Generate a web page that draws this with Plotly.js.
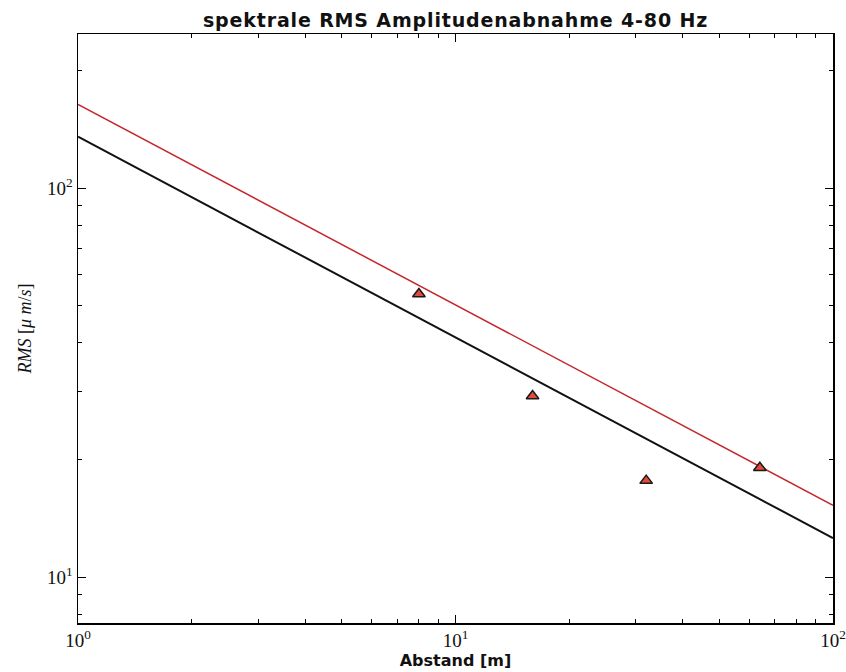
<!DOCTYPE html>
<html>
<head>
<meta charset="utf-8">
<script src="https://cdn.plot.ly/plotly-3.0.1.min.js"></script>
<style>
html,body{margin:0;padding:0;background:#fff;}
#chart{width:846px;height:672px;}
#chart .gtitle{letter-spacing:0.85px;}
</style>
</head>
<body>
<div id="chart"></div>
<script>
// Data
const distance = [8, 16, 32, 64];            // Abstand [m]
const rmsValues = [53.4, 29.2, 17.7, 19.1];    // measured RMS
const fitX = [1, 100];
const redFitY = [164, 15.3];
const blackFitY = [135.5, 12.6];
const xTickVals = [1, 10, 100];
const xTickText = ['10<sup>0</sup>', '10<sup>1</sup>', '10<sup>2</sup>'];
const yTickVals = [10, 100];
const yTickText = ['10<sup>1</sup>', '10<sup>2</sup>'];
const xMinorVals = [2,3,4,5,6,7,8,9,20,30,40,50,60,70,80,90];
const yMinorVals = [8,9,20,30,40,50,60,70,80,90,200];

const traces = [
  {x: fitX, y: blackFitY, mode: 'lines', line: {color: '#111111', width: 2}, hoverinfo: 'skip'},
  {x: fitX, y: redFitY, mode: 'lines', line: {color: '#c4262b', width: 1.5}, hoverinfo: 'skip'},
  {x: distance, y: rmsValues, mode: 'markers',
   marker: {symbol: 'triangle-up', size: 11, color: '#e34a3c', line: {color: '#1a1a1a', width: 1.5}}}
];

const axisCommon = {
  type: 'log', showgrid: false, zeroline: false,
  showline: true, linecolor: '#000', linewidth: 1.5, mirror: 'ticks',
  ticks: 'inside', ticklen: 8, tickwidth: 1, tickcolor: '#000',
  tickfont: {family: 'Liberation Serif, DejaVu Serif, serif', size: 19, color: '#111'},
  tickmode: 'array'
};

const layout = {
  width: 846, height: 672,
  margin: {l: 78, r: 13, t: 34, b: 49},
  paper_bgcolor: '#fff', plot_bgcolor: '#fff',
  showlegend: false,
  title: {text: '<b>spektrale RMS Amplitudenabnahme 4-80 Hz</b>',
    font: {family: 'DejaVu Sans, Liberation Sans, sans-serif', size: 19, color: '#111'},
    xref: 'paper', x: 0.5, xanchor: 'center', y: 0.969, yanchor: 'middle'},
  xaxis: Object.assign({}, axisCommon, {
    range: [0, 2], tickvals: xTickVals, ticktext: xTickText,
    minor: {tickmode: 'array', tickvals: xMinorVals, ticks: 'inside', ticklen: 4, tickcolor: '#000', tickwidth: 1},
    title: {text: '<b>Abstand [m]</b>', standoff: 2,
      font: {family: 'DejaVu Sans, Liberation Sans, sans-serif', size: 16, color: '#111'}}
  }),
  yaxis: Object.assign({}, axisCommon, {
    range: [0.882, 2.396], tickvals: yTickVals, ticktext: yTickText,
    minor: {tickmode: 'array', tickvals: yMinorVals, ticks: 'inside', ticklen: 4, tickcolor: '#000', tickwidth: 1},
    title: {text: '<i>RMS</i> [<i>μ m</i>/<i>s</i>]', standoff: 10,
      font: {family: 'Liberation Serif, DejaVu Serif, serif', size: 18, color: '#111'}}
  })
};

Plotly.newPlot('chart', traces, layout, {displayModeBar: false, staticPlot: true});
</script>
</body>
</html>
